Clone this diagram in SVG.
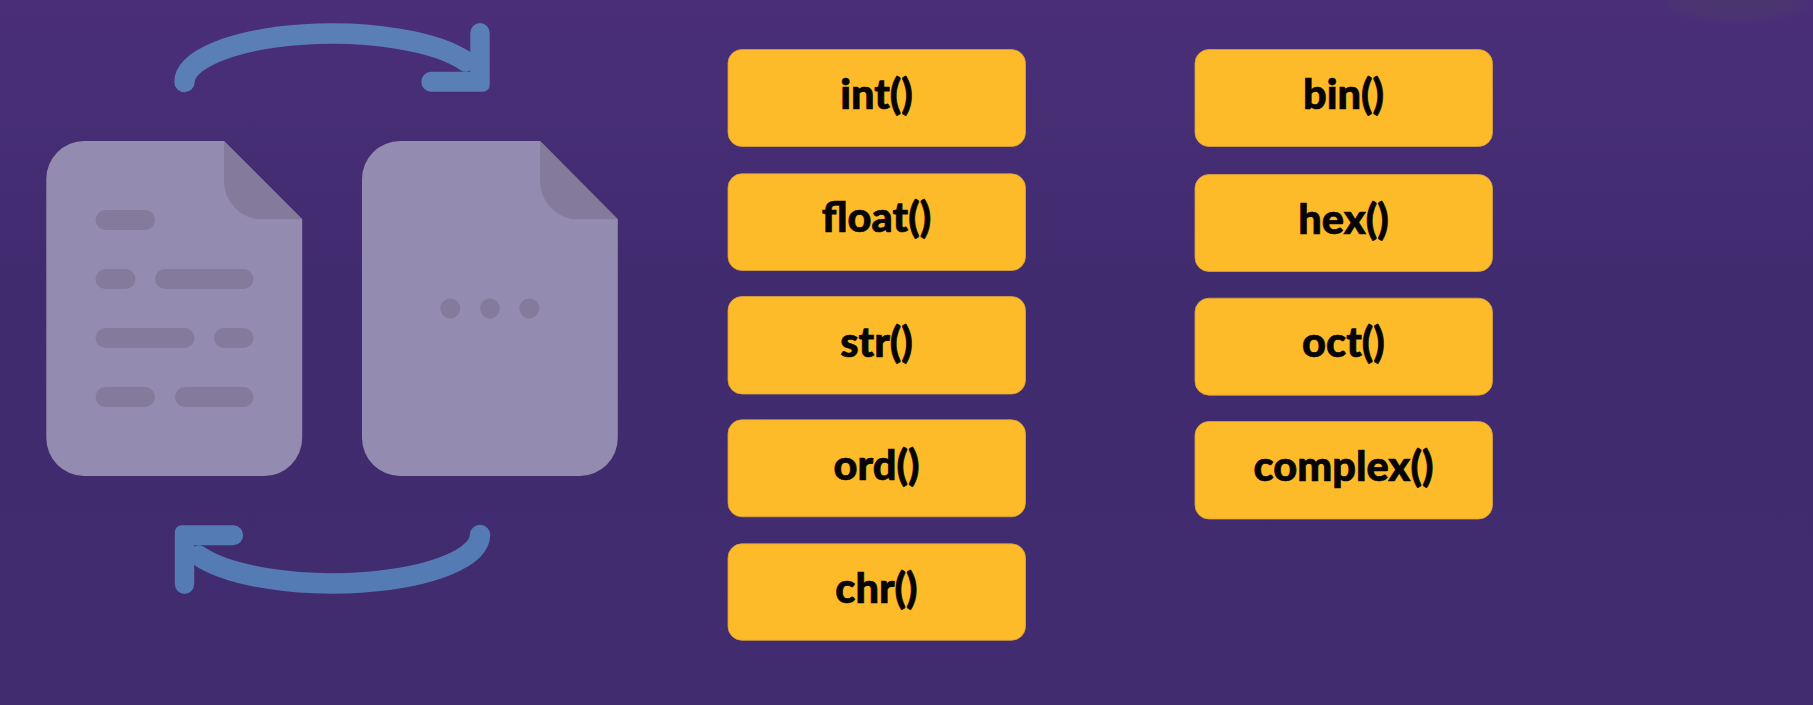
<svg xmlns="http://www.w3.org/2000/svg" width="1813" height="705" viewBox="0 0 1813 705">
  <defs>
    <linearGradient id="bg" x1="0" y1="0" x2="0" y2="1">
      <stop offset="0" stop-color="#4a2f78"/>
      <stop offset="0.4" stop-color="#412b6f"/>
      <stop offset="1" stop-color="#402c6e"/>
    </linearGradient>
    <radialGradient id="smudge">
      <stop offset="0" stop-color="#4a3868"/>
      <stop offset="0.7" stop-color="#4c3571"/>
      <stop offset="1" stop-color="#4a2f78" stop-opacity="0"/>
    </radialGradient>
    <g id="arrow">
      <path class="curve" d="M184.5 82 A147.75 48.5 0 0 1 466 61.5"/>
      <path class="head" d="M470.3 33 A9.7 10 0 0 1 489.7 33 V85 A6.7 6.7 0 0 1 483 91.7 H431 A9.7 10 0 0 1 431 71.7 H470.3 Z"/>
    </g>
  </defs>
  <style>
    .doc { fill: #948bb0; }
    .mark { fill: #847a9c; }
    .curve { fill: none; stroke: currentColor; stroke-width: 20.5; stroke-linecap: round; }
    .head { fill: currentColor; stroke: none; }
    .box { fill: #febb29; stroke: #d8a23c; stroke-width: 0.8; }
    .label { font-family: "Lato", "Liberation Sans", sans-serif; font-weight: 900; font-size: 41.5px; fill: #060406; stroke: #060406; stroke-width: 0.7px; text-anchor: middle; }
  </style>
  <rect width="1813" height="705" fill="url(#bg)"/>
  <ellipse cx="1737" cy="0" rx="84" ry="26" fill="url(#smudge)" opacity="0.75"/>

  <g id="doc-text">
    <path class="doc" d="M84 141 H224 L302.2 219.3 V438 A38 38 0 0 1 264 476 H84 A38 38 0 0 1 46.3 438 V179 A38 38 0 0 1 84 141 Z"/>
    <path class="mark" d="M224 141 L302.2 219.3 H262 A38 38 0 0 1 224 181 Z"/>
    <rect class="mark" x="95.5" y="210" width="59.5" height="20" rx="10"/>
    <rect class="mark" x="95.5" y="269" width="40" height="20" rx="10"/>
    <rect class="mark" x="155" y="269" width="98.5" height="20" rx="10"/>
    <rect class="mark" x="95.5" y="328" width="99" height="20" rx="10"/>
    <rect class="mark" x="214" y="328" width="39.5" height="20" rx="10"/>
    <rect class="mark" x="95.5" y="387" width="59.5" height="20" rx="10"/>
    <rect class="mark" x="175" y="387" width="78.5" height="20" rx="10"/>
  </g>
  <g id="doc-dots">
    <path class="doc" d="M400 141 H540 L617.8 219.3 V438 A38 38 0 0 1 580 476 H400 A38 38 0 0 1 362 438 V179 A38 38 0 0 1 400 141 Z"/>
    <path class="mark" d="M540 141 L617.8 219.3 H578 A38 38 0 0 1 540 181 Z"/>
    <circle class="mark" cx="450.3" cy="308.5" r="10"/>
    <circle class="mark" cx="490" cy="308.5" r="10"/>
    <circle class="mark" cx="529.3" cy="308.5" r="10"/>
  </g>

  <g id="connectors">
    <g id="arrow-top" color="#5a7eb6">
      <use href="#arrow"/>
    </g>
    <g id="arrow-bottom" color="#557bb4" transform="rotate(180 332.25 308.5)">
      <use href="#arrow"/>
    </g>
  </g>

  <g id="node-int"><rect class="box" x="728" y="49.5" width="297.5" height="97" rx="14"/><text class="label" x="876.5" y="109">int()</text></g>
  <g id="node-float"><rect class="box" x="728" y="173.8" width="297.5" height="96.7" rx="14"/><text class="label" x="876.5" y="232">float()</text></g>
  <g id="node-str"><rect class="box" x="728" y="296.5" width="297.5" height="97.5" rx="14"/><text class="label" x="876.5" y="357">str()</text></g>
  <g id="node-ord"><rect class="box" x="728" y="419.8" width="297.5" height="97" rx="14"/><text class="label" x="876.5" y="480">ord()</text></g>
  <g id="node-chr"><rect class="box" x="728" y="543.8" width="297.5" height="96.5" rx="14"/><text class="label" x="876.5" y="603">chr()</text></g>
  <g id="node-bin"><rect class="box" x="1195" y="49.5" width="297.5" height="97" rx="14"/><text class="label" x="1343.5" y="109">bin()</text></g>
  <g id="node-hex"><rect class="box" x="1195" y="174.5" width="297.5" height="97" rx="14"/><text class="label" x="1343.5" y="234">hex()</text></g>
  <g id="node-oct"><rect class="box" x="1195" y="298.2" width="297.5" height="97" rx="14"/><text class="label" x="1343.5" y="357">oct()</text></g>
  <g id="node-complex"><rect class="box" x="1195" y="421.5" width="297.5" height="97.5" rx="14"/><text class="label" x="1343.5" y="481">complex()</text></g>
</svg>
